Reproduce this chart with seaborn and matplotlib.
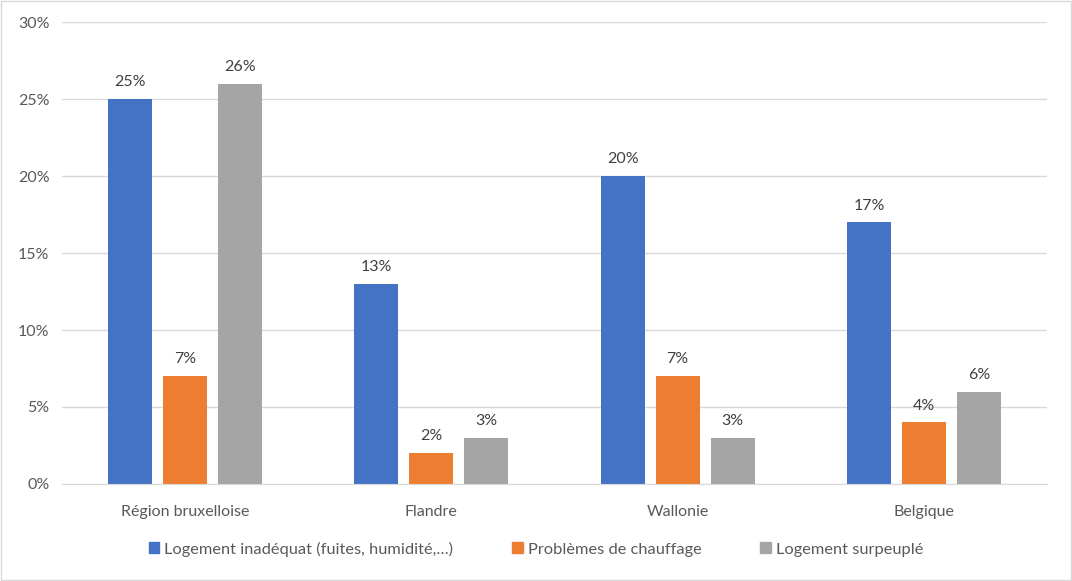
import pandas as pd
import matplotlib.pyplot as plt
import seaborn as sns
from matplotlib.ticker import PercentFormatter
from matplotlib.patches import Patch

regions = ["Région bruxelloise", "Flandre", "Wallonie", "Belgique"]
series = ["Logement inadéquat (fuites, humidité,…)", "Problèmes de chauffage", "Logement surpeuplé"]
inadequat = [25, 13, 20, 17]
chauffage = [7, 2, 7, 4]
surpeuple = [26, 3, 3, 6]
colors = ["#4472C4", "#ED7D31", "#A5A5A5"]

rows = []
for s, vals in zip(series, [inadequat, chauffage, surpeuple]):
    for r, v in zip(regions, vals):
        rows.append({"region": r, "serie": s, "value": v})
df = pd.DataFrame(rows)

sns.set_style("white")
plt.rcParams['font.family'] = ['Lato', 'DejaVu Sans']

fig = plt.figure(figsize=(10.72, 5.81), dpi=100)
ax = fig.add_axes([0.0578, 0.167, 0.9189, 0.795])

sns.barplot(data=df, x="region", y="value", hue="serie", palette=colors,
            width=0.67, gap=0.2, ax=ax, legend=False, saturation=1,
            linewidth=0, edgecolor="none")

for cont in ax.containers:
    ax.bar_label(cont, labels=[f"{int(v)}%" for v in cont.datavalues],
                 padding=7, fontsize=11.5, color="#404040")

ax.set_ylim(0, 30)
ax.set_xlim(-0.5, 3.5)
ax.set_yticks(range(0, 31, 5))
ax.yaxis.set_major_formatter(PercentFormatter(decimals=0))
ax.grid(axis="y", color="#D9D9D9", linewidth=1)
ax.set_axisbelow(True)
for side in ["top", "right", "left"]:
    ax.spines[side].set_visible(False)
ax.spines["bottom"].set_color("#D9D9D9")
ax.tick_params(axis="both", length=0, labelsize=11.5, labelcolor="#595959")
ax.tick_params(axis="x", pad=15)
ax.tick_params(axis="y", pad=9)
ax.set_xlabel("")
ax.set_ylabel("")

handles = [Patch(color=c, label=s) for c, s in zip(colors, series)]
fig.legend(handles=handles, loc="center", bbox_to_anchor=(0.5, 0.055), ncol=3,
           frameon=False, fontsize=11.8, handlelength=0.65, handleheight=0.65,
           handletextpad=0.3, columnspacing=3.6, labelcolor="#595959")

border = plt.Rectangle((0.001, 0.001), 0.998, 0.997, transform=fig.transFigure,
                       fill=False, edgecolor="#D9D9D9", linewidth=1)
fig.patches.append(border)

fig.savefig("out.png", dpi=100)
